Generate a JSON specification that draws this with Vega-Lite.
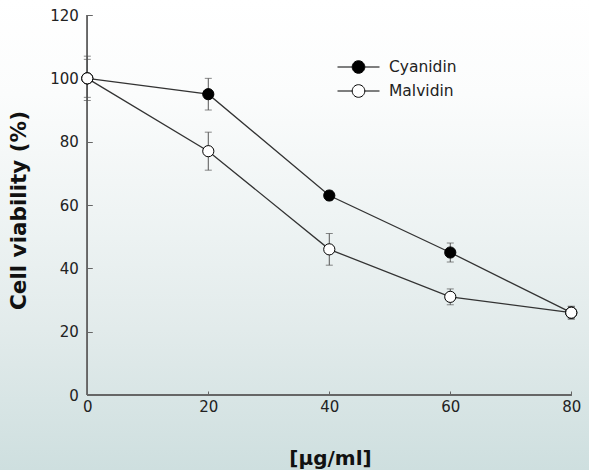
{
  "$schema": "https://vega.github.io/schema/vega-lite/v6.json",
  "width": 589,
  "height": 470,
  "autosize": {"type": "none"},
  "padding": 0,
  "background": "#ffffff",
  "config": {
    "view": {
      "stroke": null,
      "fill": {
        "gradient": "linear", "x1": 0, "y1": 0, "x2": 0, "y2": 1,
        "stops": [
          {"offset": 0, "color": "#ffffff"},
          {"offset": 0.2, "color": "#fbfcfc"},
          {"offset": 0.45, "color": "#eff4f4"},
          {"offset": 0.7, "color": "#e2ebeb"},
          {"offset": 1, "color": "#cedfdf"}
        ]
      }
    },
    "axis": {
      "grid": false,
      "domain": false,
      "labelFont": "DejaVu Sans",
      "labelFontSize": 15,
      "labelColor": "#222222",
      "tickColor": "#666666",
      "labelOverlap": false,
      "labelFlush": false,
      "titleFont": "DejaVu Sans",
      "titleFontWeight": "bold",
      "titleColor": "#111111"
    },
    "legend": {
      "labelFont": "DejaVu Sans",
      "labelFontSize": 15.5,
      "labelColor": "#222222"
    }
  },
  "data": {
    "values": [
      {"series": "Cyanidin", "conc": 0, "v": 100, "lo": 93, "hi": 107},
      {"series": "Cyanidin", "conc": 20, "v": 95, "lo": 90, "hi": 100},
      {"series": "Cyanidin", "conc": 40, "v": 63, "lo": 61.5, "hi": 64.5},
      {"series": "Cyanidin", "conc": 60, "v": 45, "lo": 42, "hi": 48},
      {"series": "Cyanidin", "conc": 80, "v": 26, "lo": 24, "hi": 28},
      {"series": "Malvidin", "conc": 0, "v": 100, "lo": 94, "hi": 106},
      {"series": "Malvidin", "conc": 20, "v": 77, "lo": 71, "hi": 83},
      {"series": "Malvidin", "conc": 40, "v": 46, "lo": 41, "hi": 51},
      {"series": "Malvidin", "conc": 60, "v": 31, "lo": 28.5, "hi": 33.5},
      {"series": "Malvidin", "conc": 80, "v": 26, "lo": 24, "hi": 28}
    ]
  },
  "encoding": {
    "x": {
      "field": "conc", "type": "quantitative",
      "scale": {"domain": [-14.43, 82.93], "nice": false, "zero": false},
      "axis": {
        "values": [0, 20, 40, 60, 80],
        "offset": -75,
        "tickSize": -4,
        "labelPadding": 8,
        "title": "[μg/ml]",
        "titleFontSize": 20,
        "titleBaseline": "alphabetic",
        "titleX": 330,
        "titleY": 69
      }
    },
    "y": {
      "field": "v", "type": "quantitative",
      "scale": {"domain": [-23.68, 124.74], "nice": false, "zero": false},
      "axis": {
        "values": [0, 20, 40, 60, 80, 100, 120],
        "offset": -87.3,
        "tickSize": -5,
        "labelPadding": 14,
        "title": "Cell viability (%)",
        "titleFontSize": 21.5,
        "titleBaseline": "alphabetic",
        "titleX": -62,
        "titleY": 210
      }
    }
  },
  "layer": [
    {
      "mark": {"type": "rule", "color": "#666666", "strokeWidth": 1},
      "encoding": {"x": {"datum": 0}, "y": {"datum": 0}, "y2": {"datum": 120}}
    },
    {
      "mark": {"type": "rule", "color": "#666666", "strokeWidth": 1},
      "encoding": {"x": {"datum": 0}, "x2": {"datum": 80}, "y": {"datum": 0}}
    },
    {
      "mark": {"type": "rule", "color": "#555555", "strokeWidth": 1},
      "encoding": {"y": {"field": "lo", "type": "quantitative"}, "y2": {"field": "hi"}}
    },
    {
      "mark": {"type": "tick", "orient": "horizontal", "color": "#555555", "size": 7, "thickness": 1},
      "encoding": {"y": {"field": "lo", "type": "quantitative"}}
    },
    {
      "mark": {"type": "tick", "orient": "horizontal", "color": "#555555", "size": 7, "thickness": 1},
      "encoding": {"y": {"field": "hi", "type": "quantitative"}}
    },
    {
      "mark": {"type": "line", "color": "#333333", "strokeWidth": 1.3},
      "encoding": {"detail": {"field": "series"}}
    },
    {
      "mark": {"type": "point", "shape": "circle", "filled": true, "size": 125, "stroke": "#000000", "strokeWidth": 1, "opacity": 1},
      "encoding": {
        "fill": {
          "field": "series", "type": "nominal",
          "scale": {"domain": ["Cyanidin", "Malvidin"], "range": ["#000000", "#ffffff"]},
          "legend": {
            "title": null,
            "orient": "none",
            "legendX": 337,
            "legendY": 55,
            "padding": 0,
            "symbolType": "M-1,0H-0.3M0.3,0H1M0.3,0A0.3,0.3,0,1,1,-0.3,0A0.3,0.3,0,1,1,0.3,0Z",
            "symbolSize": 1764,
            "symbolStrokeColor": "#000000",
            "symbolStrokeWidth": 1,
            "symbolOpacity": 1,
            "labelOffset": 9,
            "clipHeight": 24,
            "rowPadding": 0
          }
        }
      }
    }
  ]
}
